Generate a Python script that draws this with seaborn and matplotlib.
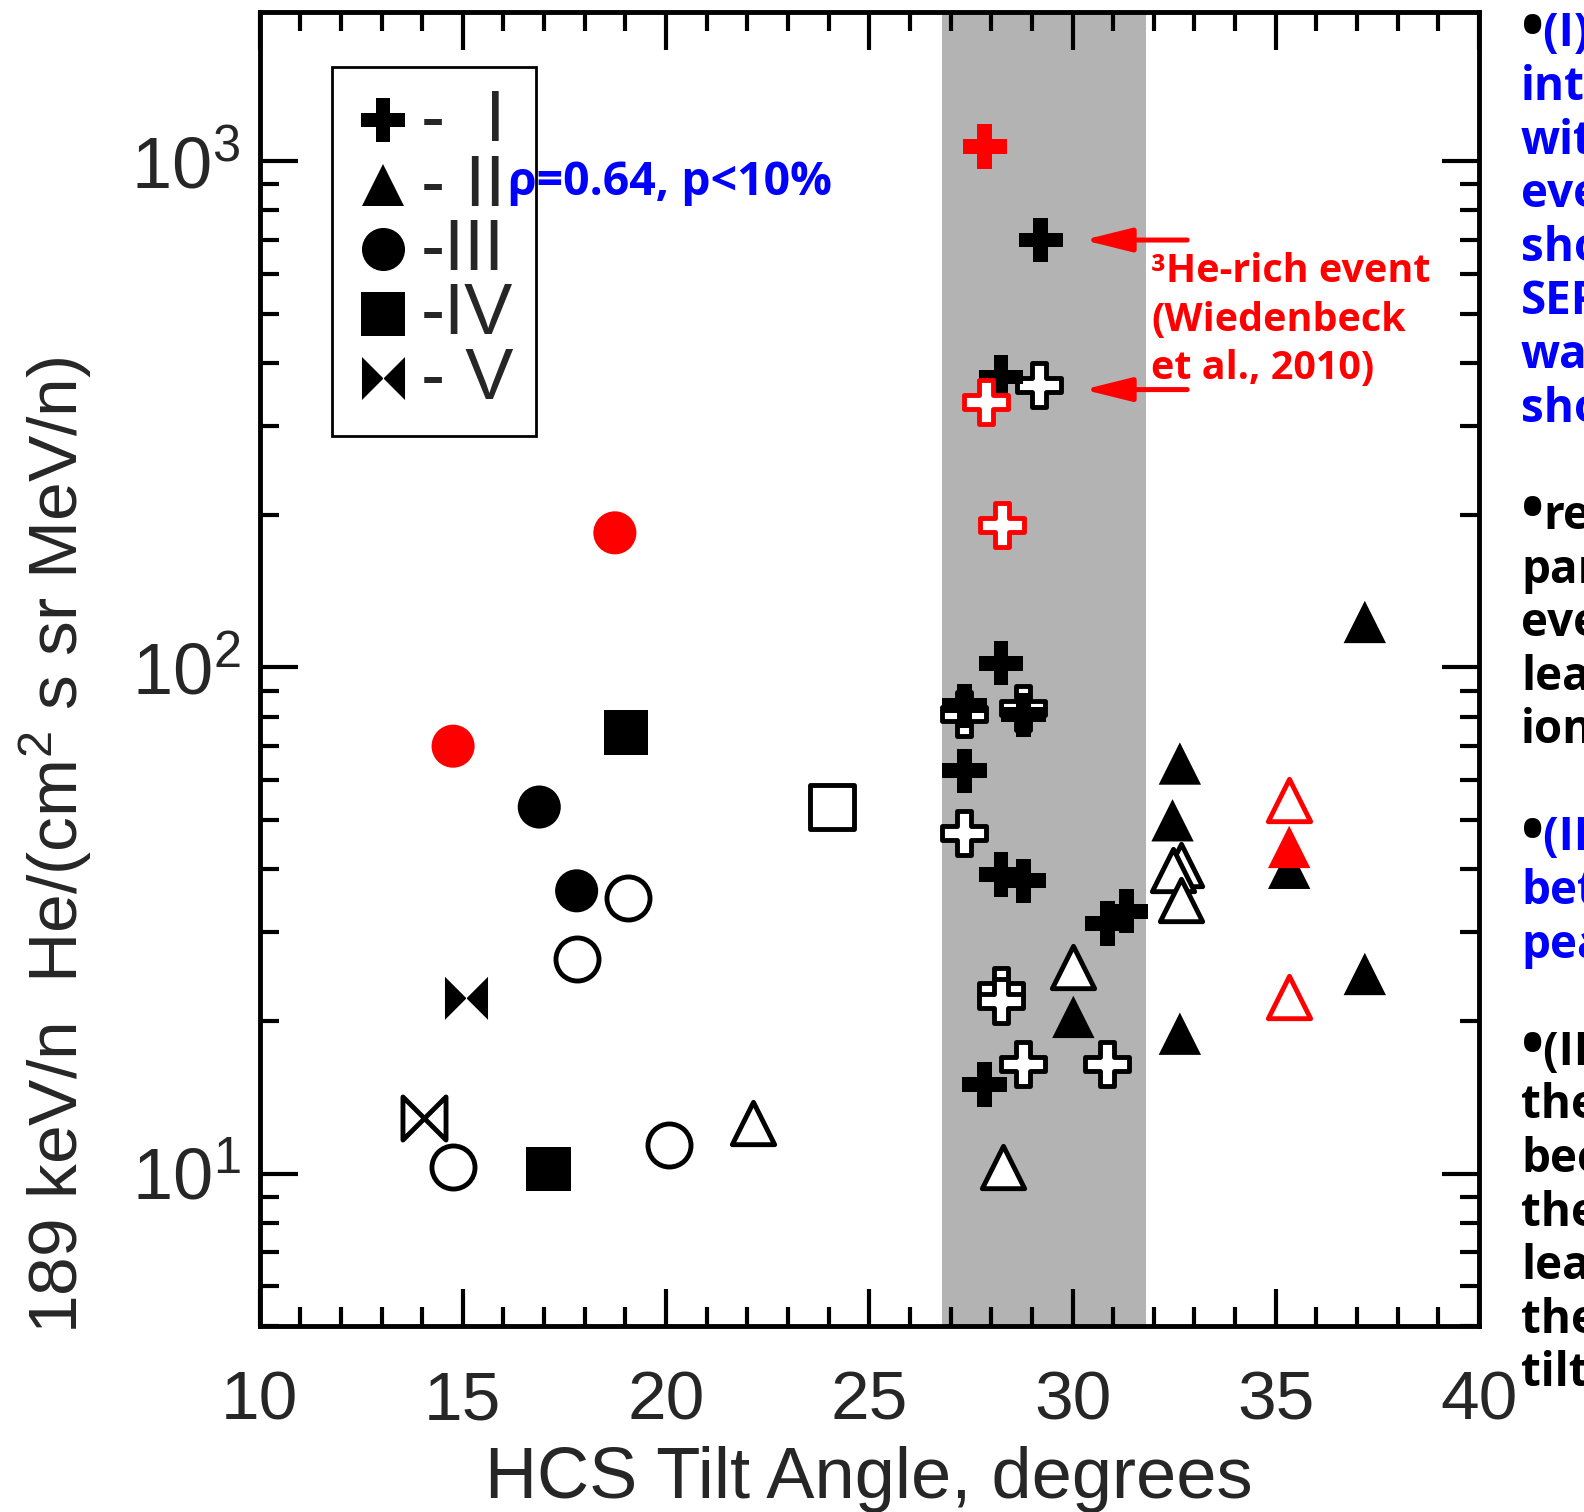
import matplotlib
matplotlib.use("Agg")
import matplotlib.pyplot as plt
import numpy as np
import pandas as pd
import seaborn as sns
from matplotlib import font_manager as fm
from matplotlib.font_manager import FontProperties
from matplotlib.lines import Line2D
from matplotlib.path import Path
from matplotlib.ticker import (FixedLocator, FuncFormatter, LogLocator,
                               MultipleLocator, NullFormatter)

# ---------------------------------------------------------------------------
# 189 keV/n He intensity vs. HCS tilt angle, grouped by event type I-V.
# "hollow" and "red" flag the two sub-populations of each type.
# ---------------------------------------------------------------------------
tilt_I = [29.22, 28.24, 28.24, 27.34, 28.79, 27.34, 28.24, 28.79, 30.86, 31.32, 27.83,
          29.18, 27.34, 28.79, 27.34, 28.24, 28.24, 28.79, 30.86,
          27.84, 27.86, 28.26]
flux_I = [699, 375, 102, 84.0, 80.6, 62.5, 39.0, 37.9, 31.2, 33.0, 15.0,
          361, 81.0, 83.3, 47.2, 23.1, 21.9, 16.5, 16.5,
          1069, 335, 191]
hollow_I = [0, 0, 0, 0, 0, 0, 0, 0, 0, 0, 0,
            1, 1, 1, 1, 1, 1, 1, 1,
            0, 1, 1]
red_I = [0, 0, 0, 0, 0, 0, 0, 0, 0, 0, 0,
         0, 0, 0, 0, 0, 0, 0, 0,
         1, 1, 1]

tilt_II = [30.02, 32.64, 32.46, 32.64, 35.33, 37.19, 37.19,
           22.14, 28.28, 30.02, 32.67, 32.48, 32.67,
           35.33, 35.33, 35.33]
flux_II = [20.4, 64.6, 49.9, 18.9, 40.2, 24.8, 123,
           12.6, 10.3, 25.6, 40.7, 39.8, 34.7,
           44.2, 54.7, 22.3]
hollow_II = [0, 0, 0, 0, 0, 0, 0,
             1, 1, 1, 1, 1, 1,
             0, 1, 1]
red_II = [0, 0, 0, 0, 0, 0, 0,
          0, 0, 0, 0, 0, 0,
          1, 1, 1]

tilt_III = [16.88, 17.80, 19.06, 17.80, 14.76, 20.07, 18.74, 14.76]
flux_III = [53.0, 36.2, 35.0, 26.5, 10.3, 11.4, 184.5, 69.9]
hollow_III = [0, 0, 1, 1, 1, 1, 0, 0]
red_III = [0, 0, 0, 0, 0, 0, 1, 1]

tilt_IV = [19.01, 17.11, 24.08]
flux_IV = [74.4, 10.2, 53.0]
hollow_IV = [0, 0, 1]
red_IV = [0, 0, 0]

tilt_V = [15.09, 14.05]
flux_V = [22.2, 12.9]
hollow_V = [0, 1]
red_V = [0, 0]

event_types = ["I", "II", "III", "IV", "V"]
legend_labels = ["-  I", "- II", "-III", "-IV", "- V"]

band_lo, band_hi = 26.8, 31.8          # shaded tilt-angle interval
arrow_targets = [699, 354]             # He intensities pointed at by the arrows

x_ticks = [10, 15, 20, 25, 30, 35, 40]
y_ticks = [10, 100, 1000]

corr_text = "ρ=0.64, p<10%"
event_note = ["³He-rich event", "(Wiedenbeck", "et al., 2010)"]

# side notes: (bullet?, text, colour); None marks a paragraph gap
side_notes = [
    (True, "(I) The", "blue"), (False, "intensity", "blue"),
    (False, "with", "blue"), (False, "events", "blue"),
    (False, "show", "blue"), (False, "SEP", "blue"), (False, "was", "blue"),
    (False, "shown", "blue"), None,
    (True, "relatively", "black"), (False, "particle", "black"),
    (False, "events", "black"), (False, "lead", "black"),
    (False, "ions", "black"), None,
    (True, "(II) No", "blue"), (False, "between", "blue"),
    (False, "peak", "blue"), None,
    (True, "(III) In", "black"), (False, "the", "black"),
    (False, "because", "black"), (False, "the", "black"),
    (False, "lead", "black"), (False, "the", "black"), (False, "tilt", "black"),
]

# ---------------------------------------------------------------------------
rows = []
for t, (tl, fl, ho, rd) in zip(event_types, [
        (tilt_I, flux_I, hollow_I, red_I),
        (tilt_II, flux_II, hollow_II, red_II),
        (tilt_III, flux_III, hollow_III, red_III),
        (tilt_IV, flux_IV, hollow_IV, red_IV),
        (tilt_V, flux_V, hollow_V, red_V)]):
    rows.append(pd.DataFrame({"tilt": tl, "flux": fl, "type": t,
                              "hollow": np.array(ho, bool),
                              "red": np.array(rd, bool)}))
df = pd.concat(rows, ignore_index=True)

sns.set_style("ticks")
plt.rcParams["font.family"] = ["Liberation Sans", "DejaVu Sans"]
plt.rcParams["mathtext.fontset"] = "custom"
plt.rcParams["mathtext.rm"] = "Liberation Sans"
plt.rcParams["mathtext.it"] = "Liberation Sans:italic"
plt.rcParams["mathtext.bf"] = "Liberation Sans:bold"


def _weight(w):
    return w if isinstance(w, (int, float)) else fm.weight_dict.get(w, 400)


def bold_family(candidates):
    """First candidate family that ships a real bold face."""
    for name in candidates:
        for f in fm.fontManager.ttflist:
            if f.name == name and _weight(f.weight) >= 600 and f.style == "normal":
                return name
    return "DejaVu Sans"


BOLD_FAMILY = bold_family(["Noto Sans", "Open Sans", "Lato", "Roboto",
                           "Inter", "Liberation Sans"])
bold = dict(family=[BOLD_FAMILY, "DejaVu Sans"], weight="bold")

W, H = 1584, 1512
fig = plt.figure(figsize=(W / 100, H / 100), dpi=100)
ax = fig.add_axes([0.16389, 0.12302, 0.76983, 0.86924])
ax.set_yscale("log")
ax.set_xlim(10, 40)
ax.set_ylim(5, 1975)

ax.axvspan(band_lo, band_hi, color="#b3b3b3", lw=0, zorder=0)

BOWTIE = Path([(-1, -1), (-1, 1), (1, -1), (1, 1), (-1, -1)], closed=True)
markers = {"I": "P", "II": "^", "III": "o", "IV": "s", "V": BOWTIE}
msize = {"I": 32, "II": 30.5, "III": 31, "IV": 32, "V": 31}

# draw order: hollow black, solid black, solid red, hollow red
for hollow, red in [(True, False), (False, False), (False, True), (True, True)]:
    col = "#ff0000" if red else "black"
    for t in event_types:
        sub = df[(df["type"] == t) & (df["hollow"] == hollow) & (df["red"] == red)]
        if sub.empty:
            continue
        if hollow:
            sns.scatterplot(data=sub, x="tilt", y="flux", ax=ax, legend=False,
                            marker=markers[t], s=msize[t] ** 2,
                            facecolor="white", edgecolor=col, linewidth=3.5,
                            zorder=3)
        else:
            sns.scatterplot(data=sub, x="tilt", y="flux", ax=ax, legend=False,
                            marker=markers[t], s=msize[t] ** 2,
                            color=col, edgecolor="none", linewidth=0,
                            zorder=3)

for yv in arrow_targets:
    ax.annotate("", xy=(30.27, yv), xytext=(32.82, yv),
                arrowprops=dict(arrowstyle="-|>,head_length=29,head_width=7.2",
                                color="#ff0000", lw=3.6, shrinkA=0, shrinkB=0,
                                mutation_scale=1), zorder=4)

# axes and ticks
for sp in ax.spines.values():
    sp.set_linewidth(3.5)
    sp.set_color("black")
    sp.set_visible(True)
ax.xaxis.set_major_locator(FixedLocator(x_ticks))
ax.xaxis.set_minor_locator(MultipleLocator(1))
ax.yaxis.set_major_locator(FixedLocator(y_ticks))
ax.yaxis.set_minor_locator(LogLocator(base=10, subs=np.arange(2, 10)))
ax.yaxis.set_minor_formatter(NullFormatter())
ax.yaxis.set_major_formatter(FuncFormatter(
    lambda v, p: r"$\mathregular{10^{%d}}$" % round(np.log10(v))))
ax.tick_params(which="both", direction="in", top=True, right=True,
               color="black", width=3)
ax.tick_params(which="major", length=27)
ax.tick_params(which="minor", length=14)
ax.tick_params(axis="x", which="major", labelsize=50, pad=31)
ax.tick_params(axis="y", which="major", labelsize=52, pad=14)
ax.grid(False)

ax.set_xlabel("HCS Tilt Angle, degrees", fontsize=52)
ax.xaxis.set_label_coords(0.5, -0.0913)
ax.set_ylabel(r"189 keV/n  He/(cm$^\mathregular{2}$ s sr MeV/n)", fontsize=50)
ax.yaxis.set_label_coords(-0.136, 0.366)

# legend
handles = [Line2D([], [], ls="none", marker=markers[t], ms=msize[t],
                  mfc="black", mec="black", mew=0) for t in event_types]
leg = ax.legend(handles, legend_labels, loc="upper left",
                bbox_to_anchor=(0.0594, 0.9582), borderaxespad=0,
                prop=FontProperties(family="Liberation Sans", size=52),
                handlelength=0.8, handleheight=0.3, handletextpad=0.12,
                borderpad=0.31, labelspacing=-0.035, frameon=True,
                fancybox=False, edgecolor="black", facecolor="white",
                framealpha=1)
leg.get_frame().set_linewidth(2)


def fx(px):
    return px / W


def fy(py):
    return 1 - py / H


renderer = fig.canvas.get_renderer()


def fit_width(text_artist, target_px):
    """Scale a text's font size so that it spans target_px pixels."""
    w = text_artist.get_window_extent(renderer).width
    text_artist.set_fontsize(text_artist.get_fontsize() * target_px / w)
    return text_artist.get_fontsize()


t_corr = fig.text(fx(508), fy(195), corr_text, color="#0000ff", fontsize=32,
                  ha="left", va="baseline", zorder=10, **bold)
fit_width(t_corr, 324)

note_size = None
for i, line in enumerate(event_note):
    t = fig.text(fx(1151), fy(281.5 + 49 * i), line, color="#ff0000",
                 fontsize=30, ha="left", va="baseline", **bold)
    if i == 0:
        note_size = fit_width(t, 279)
    else:
        t.set_fontsize(note_size)

# right-hand notes column (runs past the figure edge)
side_size = note_size * 1.16
for i, entry in enumerate(side_notes):
    if entry is None:
        continue
    has_bullet, txt, col = entry
    y = fy(46.5 + 53.6 * i)
    x0 = 1521
    if has_bullet:
        b = fig.text(fx(x0), y, "•", color="black", fontsize=side_size * 1.35,
                     ha="left", va="baseline", **bold)
        x0 = b.get_window_extent(renderer).x1 - 1
    fig.text(fx(x0), y, txt, color="#0000ff" if col == "blue" else "black",
             fontsize=side_size, ha="left", va="baseline", **bold)

fig.savefig("out.png", dpi=100)
